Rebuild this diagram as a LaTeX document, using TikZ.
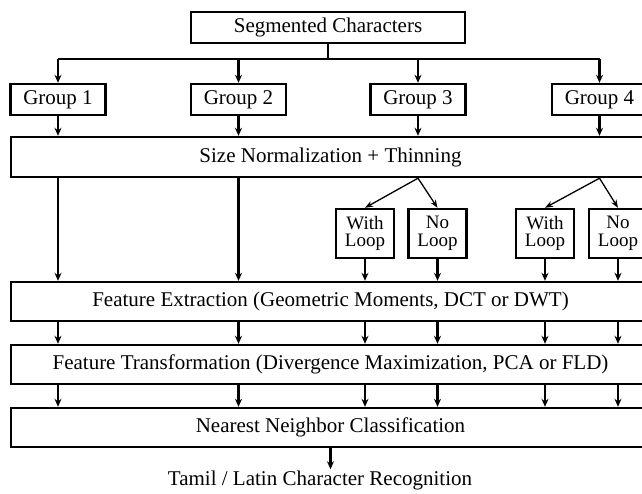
\documentclass[tikz,border=0pt]{standalone}
\usepackage{fontspec}
\setmainfont{Liberation Serif}
\usetikzlibrary{arrows.meta}
\tikzset{
  blk/.style={draw, line width=2.4pt, inner sep=0pt, font=\fontsize{21}{23}\selectfont},
  widebox/.style={blk, minimum width=639pt, minimum height=40pt},
  grpbox/.style={blk, minimum width=95pt, minimum height=31pt},
  loopbox/.style={blk, minimum width=58pt, minimum height=49pt, align=center,
    font=\fontsize{19}{17.5}\selectfont},
  arr/.style={-{Stealth[length=8pt,width=7pt]}, line width=2.2pt},
  thinarr/.style={-{Stealth[length=8pt,width=6pt]}, line width=1.3pt}
}
\begin{document}
\begin{tikzpicture}[x=1pt, y=-1pt]
\useasboundingbox (0,0) rectangle (642,493);
\node[blk, minimum width=274pt, minimum height=31pt] (seg) at (328,27.5) {Segmented Characters};
\node[grpbox] (g1) at (58,99.5) {Group 1};
\node[grpbox] (g2) at (238.5,99.5) {Group 2};
\node[grpbox] (g3) at (418,99.5) {Group 3};
\node[grpbox] (g4) at (599.5,99.5) {Group 4};
\node[widebox] (size) at (330.5,157) {Size Normalization + Thinning};
\node[loopbox] (w3) at (365,233.5) {With\\Loop};
\node[loopbox] (n3) at (437.5,233.5) {No\\Loop};
\node[loopbox] (w4) at (545,233.5) {With\\Loop};
\node[loopbox] (n4) at (618,233.5) {No\\Loop};
\node[widebox, minimum height=39pt] (fe) at (330.5,301.5) {Feature Extraction (Geometric Moments, DCT or DWT)};
\node[widebox, minimum height=39pt] (ft) at (330.5,364.5) {Feature Transformation (Divergence Maximization, PCA or FLD)};
\node[widebox, minimum height=39pt] (nn) at (330.5,427.5) {Nearest Neighbor Classification};
\node[font=\fontsize{21}{23}\selectfont, inner sep=1pt] (res) at (320,480) {Tamil / Latin Character Recognition};
\coordinate (bus) at (0,59);

\draw[line width=2.2pt] (seg.south) -- (seg.south |- bus);
\draw[line width=2.2pt] (g1.north |- bus) -- (g4.north |- bus);
\foreach \g in {g1,g2,g3,g4} {
  \draw[arr] (\g.north |- bus) -- (\g.north);
  \draw[arr] (\g.south) -- (\g.south |- size.north);
}
\foreach \g in {g1,g2}
  \draw[arr] (\g.south |- size.south) -- (\g.south |- fe.north);
\draw[thinarr] (g3.south |- size.south) -- (w3.north);
\draw[thinarr] (g3.south |- size.south) -- (n3.north);
\draw[thinarr] (g4.south |- size.south) -- (w4.north);
\draw[thinarr] (g4.south |- size.south) -- (n4.north);
\foreach \c in {w3,n3,w4,n4}
  \draw[arr] (\c.south) -- (\c.south |- fe.north);
\foreach \c in {g1,g2,w3,n3,w4,n4} {
  \draw[arr] (\c.south |- fe.south) -- (\c.south |- ft.north);
  \draw[arr] (\c.south |- ft.south) -- (\c.south |- nn.north);
}
\draw[arr] (nn.south) -- (nn.south |- res.north);
\end{tikzpicture}
\end{document}
